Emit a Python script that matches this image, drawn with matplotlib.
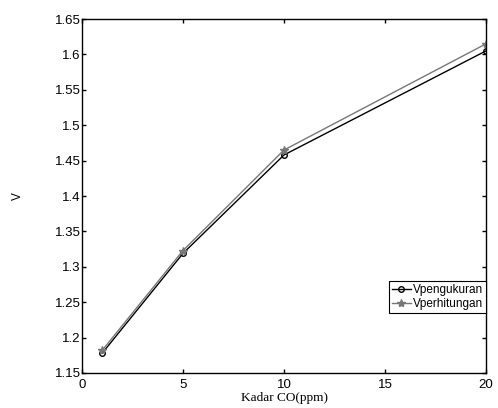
import matplotlib.pyplot as plt

# Data
kadar_co = [1, 5, 10, 20]
v_pengukuran = [1.178, 1.319, 1.458, 1.605]
v_perhitungan = [1.182, 1.323, 1.465, 1.615]

xticks = [0, 5, 10, 15, 20]
yticks = [1.15, 1.2, 1.25, 1.3, 1.35, 1.4, 1.45, 1.5, 1.55, 1.6, 1.65]
ytick_labels = ['1.15', '1.2', '1.25', '1.3', '1.35', '1.4', '1.45', '1.5', '1.55', '1.6', '1.65']

plt.rcParams['font.family'] = ['Liberation Sans', 'DejaVu Sans']

fig = plt.figure(figsize=(4.98, 4.08), dpi=100)
ax = fig.add_axes([0.1647, 0.0858, 0.8113, 0.8676])

ax.plot(kadar_co, v_pengukuran, color='black', linewidth=1.0, marker='o',
        markersize=4, markerfacecolor='none', markeredgecolor='black',
        label='Vpengukuran')
ax.plot(kadar_co, v_perhitungan, color='#777777', linewidth=1.0, marker='*',
        markersize=6, markerfacecolor='#777777', markeredgecolor='#777777',
        label='Vperhitungan')

ax.set_xlim(0, 20)
ax.set_ylim(1.15, 1.65)
ax.set_xticks(xticks)
ax.set_yticks(yticks)
ax.set_yticklabels(ytick_labels)
ax.tick_params(direction='in', top=True, right=True, labelsize=9.5,
               length=3, width=1)
ax.tick_params(axis='y', pad=1)
ax.tick_params(axis='x', pad=4.5)
for s in ax.spines.values():
    s.set_linewidth(1.0)

ax.set_xlabel('Kadar CO(ppm)', family='Liberation Serif', fontsize=9.5, labelpad=0.5)
ax.set_ylabel('V', family='Liberation Sans', fontsize=8.5, labelpad=22)

leg = ax.legend(loc='lower right', bbox_to_anchor=(1.0, 0.169), fontsize=8.5,
                fancybox=False, edgecolor='black', framealpha=1,
                borderpad=0.25, labelspacing=0.15, handlelength=1.6,
                handletextpad=0.2, borderaxespad=0)
leg.get_frame().set_linewidth(0.8)

plt.savefig('out.png', dpi=100)
